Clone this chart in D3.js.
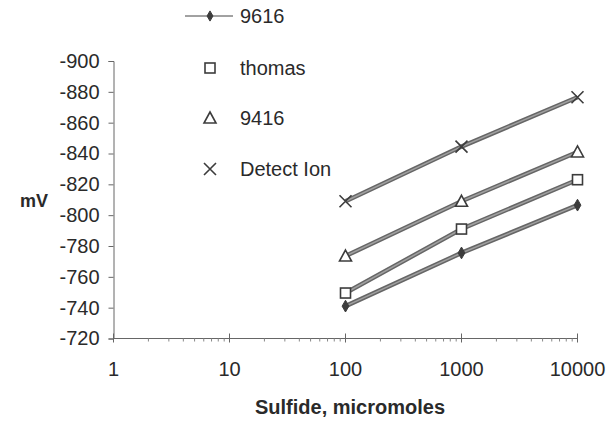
<!DOCTYPE html>
<html>
<head>
<meta charset="utf-8">
<script src="https://cdn.jsdelivr.net/npm/d3@7"></script>
<style>
  body { margin: 0; background: #fff; }
  text { font-family: "Liberation Sans", Arial, sans-serif; fill: #2a2a2a; }
</style>
</head>
<body>
<div id="chart"></div>
<script>
var svgWidth = 607;
var svgHeight = 447;

// data
var sulfide = [100, 1000, 10000];
var seriesNames = ["9616", "thomas", "9416", "Detect Ion"];
var s9616 = [-741, -775.5, -806.5];
var sThomas = [-749.5, -791, -823];
var s9416 = [-773.5, -809, -841];
var sDetect = [-809, -844.5, -876.5];
var xTicks = [1, 10, 100, 1000, 10000];
var yTicks = [-720, -740, -760, -780, -800, -820, -840, -860, -880, -900];
var markers = ["diamond", "square", "triangle", "cross"];

var seriesData = [s9616, sThomas, s9416, sDetect];

var svg = d3.select("#chart")
    .append("svg")
    .attr("width", svgWidth)
    .attr("height", svgHeight);

var xScale = d3.scaleLog()
    .domain([1, 10000])
    .range([113.5, 577.5]);

var yScale = d3.scaleLinear()
    .domain([-720, -900])
    .range([338.5, 61]);

var lineColor = "#666";
var markColor = "#3c3c3c";

// y axis (plain hyphen, not the unicode minus)
var leftAxis = d3.axisLeft(yScale)
    .tickValues(yTicks)
    .tickSize(5)
    .tickPadding(9)
    .tickFormat(d => String(d));

var yAxisG = svg.append("g")
    .attr("transform", `translate(${xScale(1)},0)`)
    .call(leftAxis);
yAxisG.select(".domain").attr("stroke", "#666");
yAxisG.selectAll(".tick line").attr("stroke", "#666");
yAxisG.selectAll("text")
    .attr("font-size", "20px")
    .attr("fill", "#2a2a2a")
    .attr("font-family", "Liberation Sans, Arial, sans-serif");

// x axis: minor ticks below, major ticks across
var minorTicks = [];
for (var dec = 1; dec < 10000; dec *= 10) {
    for (var m = 2; m < 10; m++) minorTicks.push(dec * m);
}

var xAxisG = svg.append("g")
    .attr("transform", `translate(0,${yScale(-720)})`);

xAxisG.append("line")
    .attr("x1", xScale(1))
    .attr("x2", xScale(10000))
    .attr("stroke", "#666");

xAxisG.selectAll(".minor")
    .data(minorTicks)
    .enter().append("line")
    .attr("x1", d => xScale(d))
    .attr("x2", d => xScale(d))
    .attr("y1", 0)
    .attr("y2", 3)
    .attr("stroke", "#888");

xAxisG.selectAll(".major")
    .data(xTicks)
    .enter().append("line")
    .attr("x1", d => xScale(d))
    .attr("x2", d => xScale(d))
    .attr("y1", -5)
    .attr("y2", 4)
    .attr("stroke", "#666");

xAxisG.selectAll(".xlabel")
    .data(xTicks)
    .enter().append("text")
    .attr("x", d => xScale(d))
    .attr("y", 37)
    .attr("text-anchor", "middle")
    .attr("font-size", "20px")
    .text(d => d);

// axis titles
svg.append("text")
    .attr("x", 34)
    .attr("y", 207)
    .attr("text-anchor", "middle")
    .attr("font-size", "18px")
    .attr("font-weight", "bold")
    .text("mV");

svg.append("text")
    .attr("x", 350)
    .attr("y", 414)
    .attr("text-anchor", "middle")
    .attr("font-size", "20px")
    .attr("font-weight", "bold")
    .text("Sulfide, micromoles");

// marker drawing
function drawMarker(g, type, x, y, small) {
    if (type == "diamond") {
        g.append("path")
            .attr("d", d3.symbol().type(d3.symbolDiamond).size(small ? 30 : 40)())
            .attr("transform", `translate(${x},${y})`)
            .attr("fill", markColor)
            .attr("stroke", markColor);
    } else if (type == "square") {
        g.append("rect")
            .attr("x", x - 5).attr("y", y - 5)
            .attr("width", 10).attr("height", 10)
            .attr("fill", "#fff")
            .attr("stroke", markColor)
            .attr("stroke-width", 1.6);
    } else if (type == "triangle") {
        g.append("path")
            .attr("d", `M${x},${y - 6}L${x + 6},${y + 5}L${x - 6},${y + 5}Z`)
            .attr("fill", "#fff")
            .attr("stroke", markColor)
            .attr("stroke-width", 1.6);
    } else {
        g.append("path")
            .attr("d", `M${x - 6},${y - 6}L${x + 6},${y + 6}M${x + 6},${y - 6}L${x - 6},${y + 6}`)
            .attr("stroke", markColor)
            .attr("stroke-width", 1.6);
    }
}

var line = d3.line()
    .x((d, i) => xScale(sulfide[i]))
    .y(d => yScale(d));

seriesData.forEach(function(vals, si) {
    var g = svg.append("g");
    g.append("path")
        .datum(vals)
        .attr("d", line)
        .attr("fill", "none")
        .attr("stroke", lineColor)
        .attr("stroke-width", 4.5);
    g.append("path")
        .datum(vals)
        .attr("d", line)
        .attr("fill", "none")
        .attr("stroke", "#a0a0a0")
        .attr("stroke-width", 1.5);
    vals.forEach(function(v, i) {
        drawMarker(g, markers[si], xScale(sulfide[i]), yScale(v), false);
    });
});

// legend
var legendY = [16, 68, 118, 169];
var legend = svg.append("g");
seriesNames.forEach(function(name, i) {
    var ly = legendY[i];
    if (i == 0) {
        legend.append("line")
            .attr("x1", 185).attr("x2", 233)
            .attr("y1", ly).attr("y2", ly)
            .attr("stroke", "#444");
    }
    drawMarker(legend, markers[i], 210, ly, true);
    legend.append("text")
        .attr("x", 240)
        .attr("y", ly + 7)
        .attr("font-size", "20px")
        .text(name);
});
</script>
</body>
</html>
